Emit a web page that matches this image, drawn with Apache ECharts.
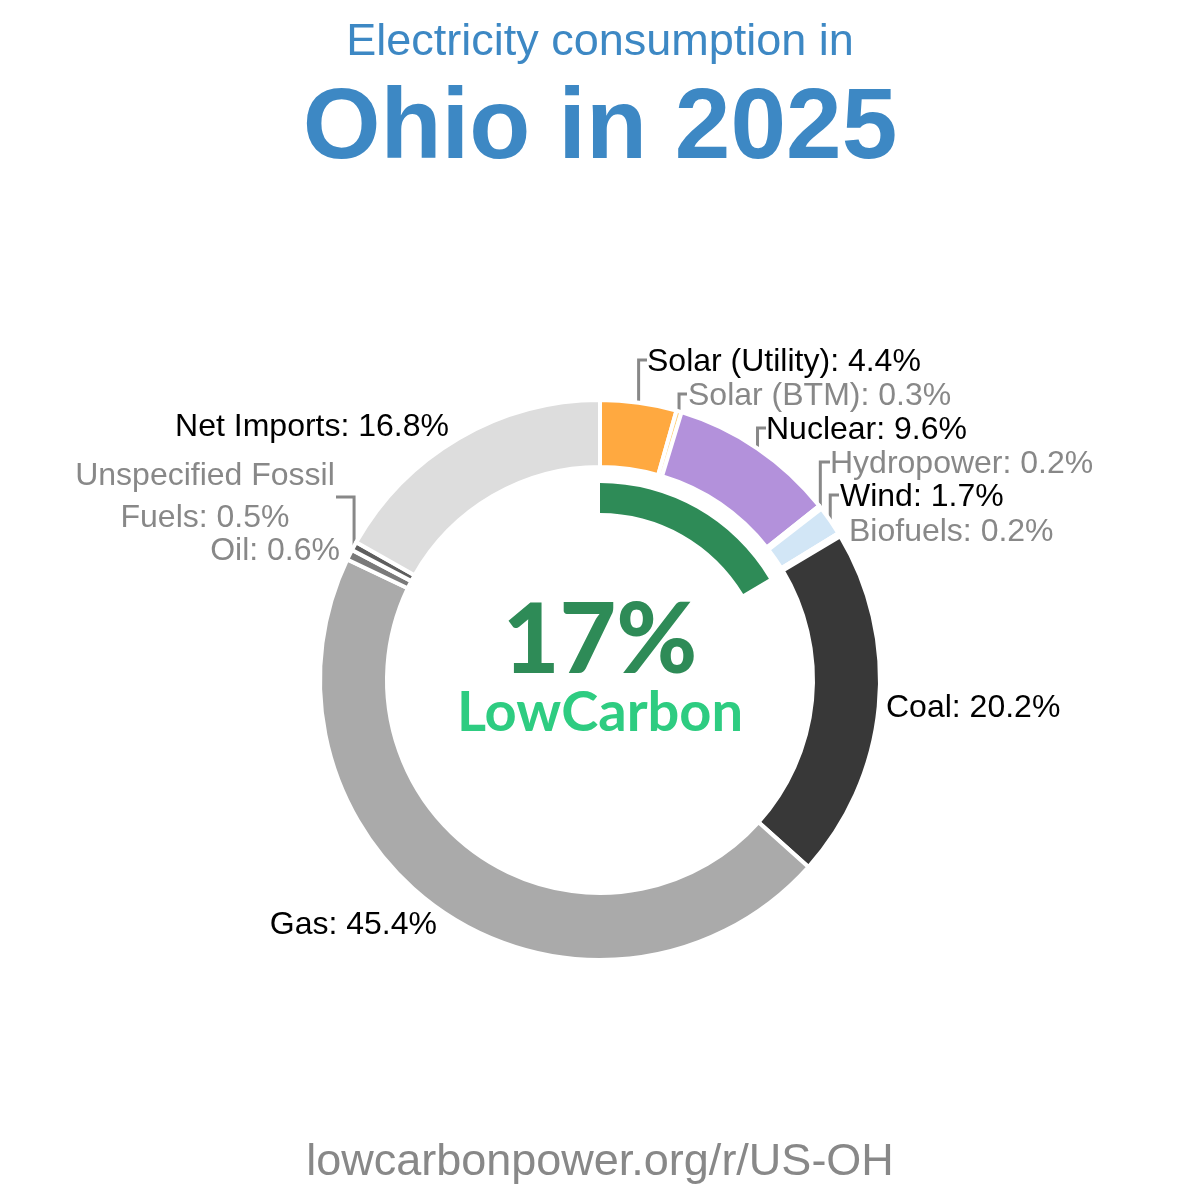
<!DOCTYPE html>
<html>
<head>
<meta charset="utf-8">
<title>Electricity consumption in Ohio in 2025</title>
<script src="https://cdn.jsdelivr.net/npm/echarts@6/dist/echarts.min.js"></script>
<style>
  html, body { margin: 0; padding: 0; background: #fff; }
  #main { width: 1200px; height: 1200px; }
</style>
</head>
<body>
<div id="main"></div>
<script>
// sources, clockwise from 12 o'clock
var sources = ['Solar (Utility)', 'Solar (BTM)', 'Nuclear', 'Hydropower', 'Wind', 'Biofuels',
               'Coal', 'Gas', 'Oil', 'Unspecified Fossil Fuels', 'Net Imports'];
var shares = [4.4, 0.3, 9.6, 0.2, 1.7, 0.2, 20.2, 45.4, 0.6, 0.5, 16.8];
var isLowCarbon = [true, true, true, true, true, true, false, false, false, false, false];
var lowCarbonText = '17%';

var sourceColors = ['#ffa940', '#ffd27f', '#b391db', '#3d8fd9', '#d2e6f6', '#5aa469',
                    '#383838', '#aaaaaa', '#7a7a7a', '#5e5e5e', '#dddddd'];

// label spots (text anchor) and where the leader line ends
var labelSpots = [
  { x: 647, y: 362, align: 'left', lineEnd: [647, 360] },
  { x: 688, y: 396, align: 'left', lineEnd: [687, 394] },
  { x: 766, y: 430, align: 'left', lineEnd: [766, 428] },
  { x: 830, y: 464, align: 'left', lineEnd: [830, 462] },
  { x: 840, y: 497, align: 'left', lineEnd: [839, 495] },
  { x: 849, y: 532, align: 'left' },
  { x: 886, y: 708, align: 'left' },
  { x: 437, y: 925, align: 'right' },
  { x: 340, y: 551, align: 'right' },
  { x: 205, y: 497, align: 'center', lineEnd: [336, 497] },
  { x: 449, y: 427, align: 'right' }
];

var lowSum = 0;
for (var i = 0; i < shares.length; i++) {
  if (isLowCarbon[i]) lowSum += shares[i];
}

var pieData = [];
for (var i = 0; i < sources.length; i++) {
  pieData.push({
    name: sources[i],
    value: shares[i],
    itemStyle: { color: sourceColors[i] },
    label: {
      color: shares[i] < 1 ? '#888888' : '#000000',
      lineHeight: 42
    },
    labelLine: { show: !!labelSpots[i].lineEnd }
  });
}

var myChart = echarts.init(document.getElementById('main'), null, { renderer: 'canvas' });

var font = 'Liberation Sans, Arial, sans-serif';

var option = {
  animation: false,
  backgroundColor: '#ffffff',
  title: [
    {
      text: 'Electricity consumption in',
      left: 'center', top: 20, padding: 0,
      textStyle: { fontSize: 45, fontWeight: 'normal', color: '#3d88c4', fontFamily: font }
    },
    {
      text: 'Ohio in 2025',
      left: 'center', top: 80, padding: 0,
      textStyle: { fontSize: 100, fontWeight: 'bold', color: '#3d88c4', fontFamily: font }
    },
    {
      text: lowCarbonText,
      left: 'center', top: 592, padding: 0,
      textStyle: { fontSize: 98, fontWeight: 900, color: '#2e8b57', fontFamily: 'Lato' }
    },
    {
      text: 'LowCarbon',
      left: 'center', top: 685, padding: 0,
      textStyle: { fontSize: 56, fontWeight: 'bold', color: '#2ecc81', fontFamily: 'Lato' }
    },
    {
      text: 'lowcarbonpower.org/r/US-OH',
      left: 'center', top: 1140, padding: 0,
      textStyle: { fontSize: 45, fontWeight: 'normal', color: '#888888', fontFamily: font }
    }
  ],
  series: [
    {
      type: 'pie',
      center: [600, 680],
      radius: [213, 280],
      startAngle: 90,
      clockwise: true,
      avoidLabelOverlap: false,
      silent: true,
      itemStyle: { borderColor: '#ffffff', borderWidth: 4 },
      label: {
        show: true,
        position: 'outside',
        fontSize: 32,
        fontFamily: font,
        formatter: function (p) {
          var name = p.name;
          // long names go on two lines
          if (name.length > 20) {
            var k = name.lastIndexOf(' ');
            name = name.slice(0, k) + '\n' + name.slice(k + 1);
          }
          return name + ': ' + p.value.toFixed(1) + '%';
        }
      },
      labelLine: {
        show: true,
        length: 10,
        length2: 10,
        lineStyle: { color: '#888888', width: 3 }
      },
      labelLayout: function (params) {
        var s = labelSpots[params.dataIndex];
        var out = { x: s.x, y: s.y, align: s.align, verticalAlign: 'middle' };
        if (s.lineEnd && params.labelLinePoints) {
          var p0 = params.labelLinePoints[0];
          out.labelLinePoints = [[p0[0], p0[1]], [p0[0], s.lineEnd[1]], s.lineEnd];
        }
        return out;
      },
      emphasis: { disabled: true },
      data: pieData
    },
    {
      // low carbon share arc
      type: 'pie',
      center: [600, 680],
      radius: [167, 197],
      startAngle: 90,
      clockwise: true,
      silent: true,
      label: { show: false },
      labelLine: { show: false },
      emphasis: { disabled: true },
      data: [
        { name: 'Low carbon', value: lowSum, itemStyle: { color: '#2e8b57' } },
        { name: 'Other', value: 100 - lowSum, itemStyle: { color: 'rgba(0,0,0,0)' } }
      ]
    }
  ]
};

myChart.setOption(option);
window.addEventListener('resize', myChart.resize);
</script>
</body>
</html>
